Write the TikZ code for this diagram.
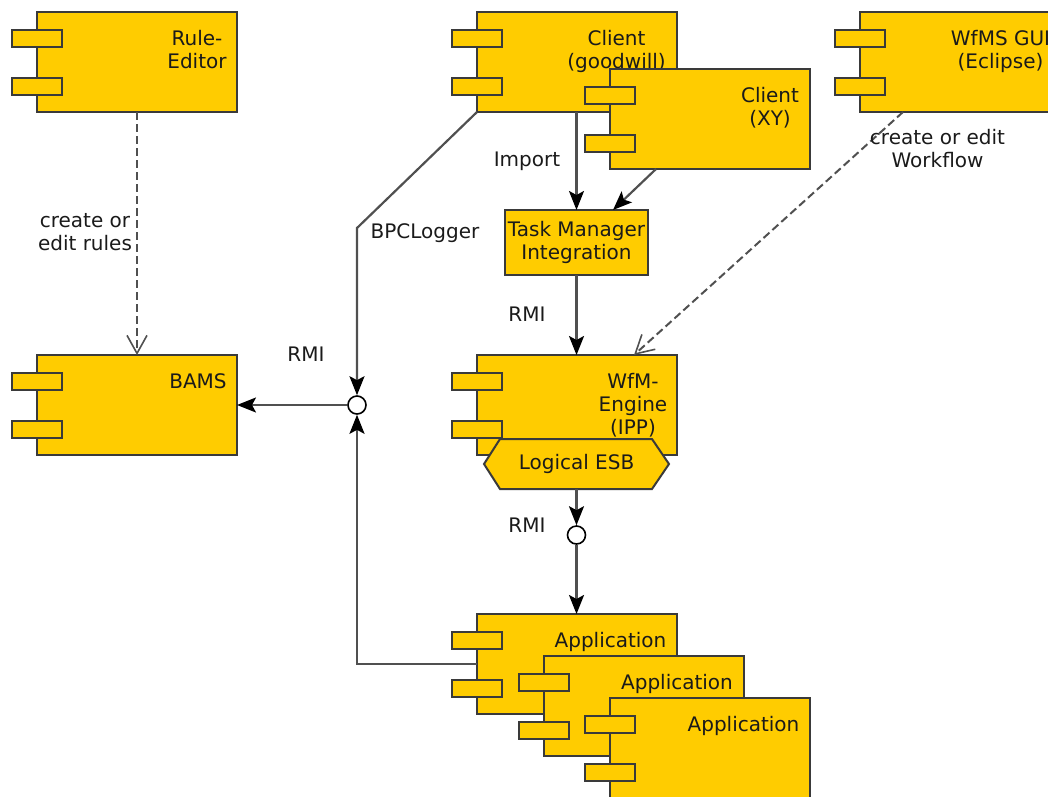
\documentclass[tikz,border=0pt]{standalone}
\usepackage{fontspec}
\setmainfont{DejaVu Sans}
\usetikzlibrary{arrows.meta,calc}
\definecolor{compfill}{HTML}{FFCC00}
\definecolor{compline}{HTML}{3A3A3A}
\definecolor{connline}{HTML}{505050}
\definecolor{txt}{HTML}{1A1A1A}
\tikzset{
  compbody/.style={draw=compline, fill=compfill, line width=2pt, inner sep=0pt, outer sep=0pt},
  compport/.style={draw=compline, fill=compfill, line width=2pt, inner sep=0pt, outer sep=0pt,
    minimum width=50pt, minimum height=17pt},
  lbl/.style={text=txt, inner sep=0pt, align=center, font=\fontsize{20pt}{23pt}\selectfont},
  conn/.style={draw=connline, line width=2.2pt, -{Stealth[length=19pt,width=15pt,inset=4pt,color=black]}},
  dep/.style={draw=connline, line width=2pt, dash pattern=on 8pt off 4pt,
    -{Straight Barb[length=18pt,width=20pt,line width=1.6pt]}},
  iface/.style={circle, draw=black, fill=white, line width=1.6pt, minimum size=18pt, inner sep=0pt},
}
% name, left x, top y, width, height, text center x, text
\newcommand\umlcomp[7]{%
  \node[compbody, minimum width=#4pt, minimum height=#5pt, anchor=north west] (#1) at (#2,#3) {};
  \node[compport, anchor=north west] (#1-pa) at ($(#1.north west)+(-25,18)$) {};
  \node[compport, anchor=north west] (#1-pb) at ($(#1.north west)+(-25,66)$) {};
  \node[lbl, anchor=north] (#1-t) at (#6,#3+18) {#7};
}
\begin{document}
\begin{tikzpicture}[x=1pt,y=-1pt]
\useasboundingbox (0,0) rectangle (1048,796);

\umlcomp{re}{37}{12}{200}{100}{197}{Rule-\\Editor}
\umlcomp{cg}{477}{12}{200}{100}{616.5}{Client\\(goodwill)}
\umlcomp{xy}{610}{69}{200}{100}{770}{Client\\(XY)}
\umlcomp{gui}{860}{12}{200}{100}{1000.5}{WfMS GUI\\(Eclipse)}
\umlcomp{bams}{37}{355}{200}{100}{198}{BAMS}
\umlcomp{wfm}{477}{355}{200}{100}{633}{WfM-\\Engine\\(IPP)}
\umlcomp{app1}{477}{614}{200}{100}{610.5}{Application}
\umlcomp{app2}{544}{656}{200}{100}{677}{Application}
\umlcomp{app3}{610}{698}{200}{100}{743.5}{Application}

% Logical ESB
\draw[compbody] (500,439) -- (652,439) -- (669,464) -- (652,489) -- (500,489) -- (484,464) -- cycle;
\node[lbl] (esb) at (576.5,464) {Logical ESB};
\coordinate (esbs) at (576.5,489);

% Task manager
\node[compbody, minimum width=143pt, minimum height=65pt] (tm) at (576.5,242.5) {};
\node[lbl] (tm-t) at (576.5,242.5) {Task Manager\\Integration};

% interfaces
\node[iface] (c1) at (357,405) {};
\node[iface] (c2) at (576.5,535) {};

% connectors
\coordinate (bend1) at (357,228);
\draw[conn] (cg.south west) -- (bend1) -- (c1.north);
\draw[conn] (app1.west) -- (app1.west -| c1) -- (c1.south);
\draw[conn] (c1.west) -- (bams.east);
\draw[conn] (cg.south -| tm.north) -- (tm.north);
\coordinate (xyout) at ($(xy.south west)+(46,0)$);
\coordinate (tmin) at ($(tm.north east)+(-35,0)$);
\draw[conn] (xyout) -- (tmin);
\draw[conn] (tm.south) -- (tm.south |- wfm.north);
\draw[conn] (esbs) -- (c2.north);
\draw[conn] (c2.south) -- (c2.south |- app1.north);
\draw[dep] (re.south) -- (bams.north);
\coordinate (guiout) at ($(gui.south west)+(43,0)$);
\coordinate (wfmin) at ($(wfm.north east)+(-43,0)$);
\draw[dep] (guiout) -- (wfmin);

% labels
\node[lbl] (l1) at (85,232) {create or\\edit rules};
\node[lbl] (l2) at (425,233) {BPCLogger};
\node[lbl] (l3) at (306,354) {RMI};
\node[lbl] (l4) at (527,161) {Import};
\node[lbl] (l5) at (527,314) {RMI};
\node[lbl] (l6) at (527,525) {RMI};
\node[lbl] (l7) at (937.5,148.5) {create or edit\\Workflow};
\end{tikzpicture}
\end{document}
